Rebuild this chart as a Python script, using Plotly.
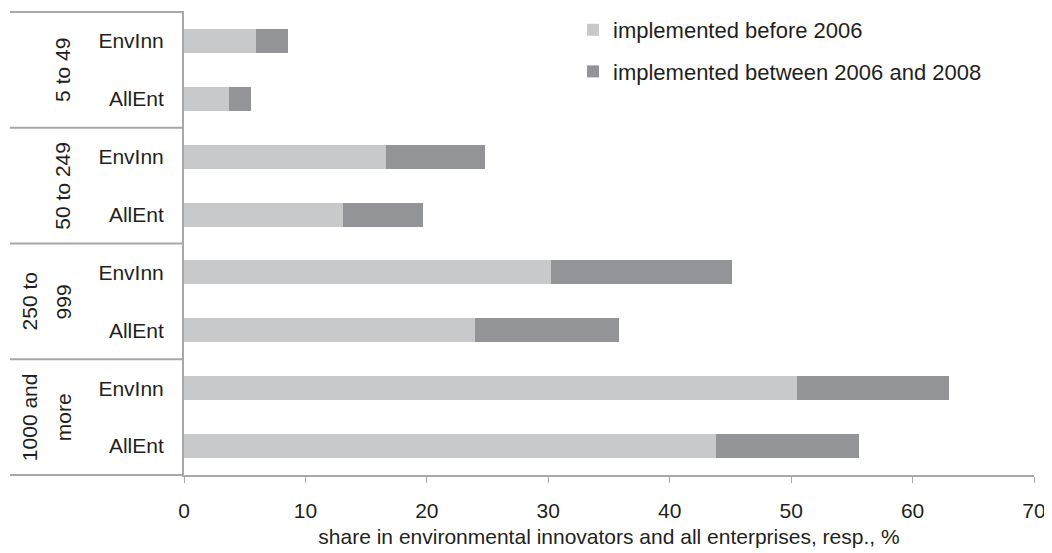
import plotly.graph_objects as go

groups = ["5 to 49", "50 to 249", "250 to 999", "1000 and more"]
group_lines = [["5 to 49"], ["50 to 249"], ["250 to", "999"], ["1000 and", "more"]]
types = ["EnvInn", "AllEnt"]
before_2006 = [5.9, 3.7, 16.6, 13.1, 30.2, 24.0, 50.5, 43.8]
between_2006_2008 = [2.7, 1.8, 8.2, 6.6, 14.9, 11.8, 12.5, 11.8]
x_ticks = [0, 10, 20, 30, 40, 50, 60, 70]

cat_ids = [f"{g}|{t}" for g in groups for t in types]
cat_labels = [t for g in groups for t in types]

LIGHT = "#c8c9cb"
DARK = "#939497"
AXIS = "#a8a8a8"
TXT = "#231f20"
FONT = "Liberation Sans, Arial, sans-serif"

fig = go.Figure()
fig.add_trace(go.Bar(x=before_2006, y=cat_ids, orientation="h", name="implemented before 2006",
                     marker=dict(color=LIGHT, line=dict(width=0)), legendgroup="a"))
fig.add_trace(go.Bar(x=between_2006_2008, y=cat_ids, orientation="h",
                     name="implemented between 2006 and 2008",
                     marker=dict(color=DARK, line=dict(width=0)), legendgroup="b"))

# the page body adds an 8px offset, so the figure is laid out 8px up/left
OFF = 8
W, H = 1052 - OFF, 553 - OFF
L, R, T, B = 184 - OFF, W - (1034 - OFF), 12 - OFF, H - (475 - OFF)
pw = W - L - R
ph = H - T - B

shapes = []
for k in range(5):
    yk = 1 - k / 4
    shapes.append(dict(type="line", xref="paper", yref="paper",
                       x0=(10 - OFF - L) / pw, x1=0, y0=yk, y1=yk,
                       line=dict(color=AXIS, width=2)))

annotations = []
n = len(groups)
for gi, lines in enumerate(group_lines):
    yc = 1 - (2 * gi + 1) / (2 * n)
    if len(lines) == 1:
        xs = [63]
    else:
        xs = [29, 63]
    for line, xp in zip(lines, xs):
        annotations.append(dict(text=line, xref="paper", yref="paper",
                                x=(xp - OFF - L) / pw, y=yc, xanchor="center", yanchor="middle",
                                textangle=-90, showarrow=False,
                                font=dict(size=21, color=TXT, family=FONT)))

fig.update_layout(
    width=W, height=H,
    margin=dict(l=L, r=R, t=T, b=B, autoexpand=False),
    barmode="stack", bargap=0.585,
    plot_bgcolor="white", paper_bgcolor="white",
    font=dict(family=FONT, size=21, color=TXT),
    shapes=shapes, annotations=annotations,
    legend=dict(x=(573 - OFF - L) / pw, y=1 + 3 / ph, xanchor="left", yanchor="top",
                font=dict(size=22, color=TXT), tracegroupgap=10,
                bgcolor="rgba(0,0,0,0)", traceorder="grouped"),
    xaxis=dict(range=[0, 70], tickvals=x_ticks, showgrid=False, zeroline=False,
               showline=True, linecolor=AXIS, linewidth=2, automargin=False,
               ticks="outside", ticklen=6, tickcolor=AXIS, tickwidth=1,
               ticklabelstandoff=10,
               tickfont=dict(size=21, color=TXT),
               title=dict(text="share in environmental innovators and all enterprises, resp., %",
                          font=dict(size=21, color=TXT), standoff=8)),
    yaxis=dict(type="category", categoryorder="array", categoryarray=cat_ids,
               autorange="reversed", tickmode="array", tickvals=cat_ids, ticktext=cat_labels,
               showgrid=False, zeroline=False, showline=True, linecolor=AXIS, linewidth=2,
               automargin=False,
               ticks="", ticklabelstandoff=14, tickfont=dict(size=21, color=TXT)),
)

fig.write_html("out.html")
